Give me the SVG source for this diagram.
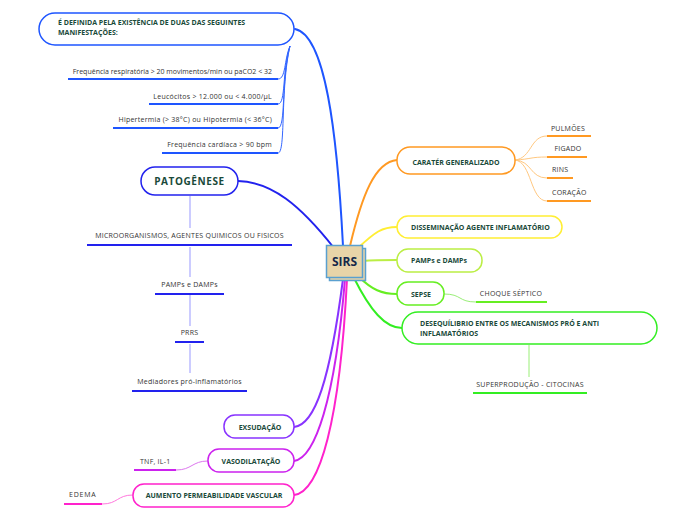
<svg xmlns="http://www.w3.org/2000/svg" width="696" height="520" viewBox="0 0 696 520">
<style>
.node{fill:#fff;stroke-width:1.5}
.nt{font-family:"Open Sans","Liberation Sans",sans-serif;font-size:7px;font-weight:bold;fill:#1a4a3a}
.ct{font-family:"Open Sans","Liberation Sans",sans-serif;font-size:7px;fill:#333;letter-spacing:0.25px}
.ul{stroke-width:2;fill:none}
.c{fill:none;stroke-width:2;stroke-linecap:round}
.cc{fill:none;stroke-width:1}
</style>
<rect width="696" height="520" fill="#fff"/>
<g id="connectors">
<path class="c" d="M343,246 C337,130 325,35 295,29" stroke="#1e55ff"/>
<path class="c" d="M334,248 C300,205 272,182 238,181" stroke="#2222ee"/>
<path class="c" d="M350,246 C362,195 375,162 397,160" stroke="#ff9922"/>
<path class="c" d="M358,248 C375,232 382,227 397,227" stroke="#ffee33"/>
<path class="c" d="M362,261 C375,260 385,260 397,260" stroke="#bbee44"/>
<path class="c" d="M358,276 C372,290 382,294 397,294" stroke="#66ee22"/>
<path class="c" d="M354,278 C370,310 385,328 402,328" stroke="#33ee22"/>
<path class="c" d="M343,279 C330,380 315,425 294,427" stroke="#8833ff"/>
<path class="c" d="M345,279 C335,400 315,458 294,461" stroke="#cc22ee"/>
<path class="c" d="M347,279 C340,420 320,492 294,495" stroke="#ff22cc"/>
<g stroke="#3366ff" class="cc">
<path d="M290,46 C284,60 286,79 278,79"/>
<path d="M290,46 C282,70 286,104 278,104"/>
<path d="M290,46 C281,80 286,128 278,128"/>
<path d="M290,46 C280,90 286,153 278,153"/>
</g>
<g stroke="#9999ff" class="cc">
<line x1="190" y1="196" x2="190" y2="228"/>
<line x1="190" y1="247" x2="190" y2="277"/>
<line x1="190" y1="295" x2="190" y2="326"/>
<line x1="190" y1="344" x2="190" y2="373"/>
</g>
<g stroke="#ffc880" class="cc">
<path d="M515,160 C532,158 530,136 547,136"/>
<path d="M515,160 C532,159 530,157 547,157"/>
<path d="M515,160 C532,161 530,178 547,178"/>
<path d="M515,160 C532,162 530,201 547,201"/>
</g>
<path class="cc" stroke="#99ee77" d="M444,294 C462,294 458,302 476,302"/>
<line class="cc" stroke="#99ee77" x1="529" y1="345" x2="529" y2="377"/>
<path class="cc" stroke="#dd77ee" d="M176,470 C192,470 192,461 208,461"/>
<path class="cc" stroke="#ff77dd" d="M102,504 C118,504 117,495 133,495"/>
</g>
<g id="n-sirs">
<rect x="329.5" y="248.5" width="36" height="32" fill="#e8d4a8" stroke="#5aa0d0" stroke-width="1.5"/>
<rect x="326.5" y="245.5" width="36" height="32" fill="#e8d4a8" stroke="#5aa0d0" stroke-width="1.5"/>
<text x="344.5" y="266" text-anchor="middle" font-family="'Open Sans','Liberation Sans',sans-serif" font-size="12" font-weight="bold" fill="#14284a">SIRS</text>
</g>
<g id="n-def">
<rect class="node" x="39" y="13" width="255" height="32" rx="16" stroke="#1e55ff"/>
<text class="nt" x="58" y="25">É DEFINIDA PELA EXISTÊNCIA DE DUAS DAS SEGUINTES</text>
<text class="nt" x="58" y="35">MANIFESTAÇÕES:</text>
</g>
<g id="n-fr">
<text class="ct" x="272" y="74" text-anchor="end" style="letter-spacing:0">Frequência respiratória &gt; 20 movimentos/min ou paCO2 &lt; 32</text>
<line class="ul" x1="68" y1="79" x2="278" y2="79" stroke="#1e55ff"/>
</g>
<g id="n-leu">
<text class="ct" x="272" y="99" text-anchor="end">Leucócitos &gt; 12.000 ou &lt; 4.000/µL</text>
<line class="ul" x1="149" y1="104" x2="278" y2="104" stroke="#1e55ff"/>
</g>
<g id="n-hip">
<text class="ct" x="272" y="122" text-anchor="end">Hipertermia (&gt; 38°C) ou Hipotermia (&lt; 36°C)</text>
<line class="ul" x1="113" y1="128" x2="278" y2="128" stroke="#1e55ff"/>
</g>
<g id="n-fc">
<text class="ct" x="272" y="147" text-anchor="end">Frequência cardíaca &gt; 90 bpm</text>
<line class="ul" x1="162" y1="153" x2="278" y2="153" stroke="#1e55ff"/>
</g>
<g id="n-pat">
<rect class="node" x="141" y="167" width="97" height="28" rx="14" stroke="#2222ee"/>
<text x="189.5" y="185" text-anchor="middle" font-family="'Open Sans','Liberation Sans',sans-serif" font-size="10" font-weight="bold" letter-spacing="0.6" fill="#1a4a3a">PATOGÊNESE</text>
</g>
<g id="n-micro">
<text class="ct" x="189.5" y="238" text-anchor="middle">MICROORGANISMOS, AGENTES QUIMICOS OU FISICOS</text>
<line class="ul" x1="87" y1="245" x2="292" y2="245" stroke="#2222ee"/>
</g>
<g id="n-pamps2">
<text class="ct" x="189.5" y="287" text-anchor="middle">PAMPs e DAMPs</text>
<line class="ul" x1="155" y1="294" x2="224" y2="294" stroke="#2222ee"/>
</g>
<g id="n-prrs">
<text class="ct" x="189.5" y="335" text-anchor="middle">PRRS</text>
<line class="ul" x1="175" y1="342" x2="204" y2="342" stroke="#2222ee"/>
</g>
<g id="n-med">
<text class="ct" x="189.5" y="384" text-anchor="middle">Mediadores pró-inflamatórios</text>
<line class="ul" x1="132" y1="391" x2="247" y2="391" stroke="#2222ee"/>
</g>
<g id="n-car">
<rect class="node" x="397" y="147" width="118" height="27" rx="13" stroke="#ff9922"/>
<text class="nt" x="456" y="164.5" text-anchor="middle">CARATÉR GENERALIZADO</text>
</g>
<g id="n-pul">
<text class="ct" x="568" y="130.5" text-anchor="middle">PULMÕES</text>
<line class="ul" x1="547" y1="136" x2="591" y2="136" stroke="#ff9922"/>
</g>
<g id="n-fig">
<text class="ct" x="568" y="150.5" text-anchor="middle">FIGADO</text>
<line class="ul" x1="547" y1="157" x2="587" y2="157" stroke="#ff9922"/>
</g>
<g id="n-rins">
<text class="ct" x="552" y="171.5">RINS</text>
<line class="ul" x1="547" y1="178" x2="573" y2="178" stroke="#ff9922"/>
</g>
<g id="n-cor">
<text class="ct" x="552" y="194.5">CORAÇÃO</text>
<line class="ul" x1="547" y1="201" x2="591" y2="201" stroke="#ff9922"/>
</g>
<g id="n-dis">
<rect class="node" x="397" y="216" width="165" height="22" rx="11" stroke="#ffee33"/>
<text class="nt" x="411" y="229.5">DISSEMINAÇÃO AGENTE INFLAMATÓRIO</text>
</g>
<g id="n-pamps">
<rect class="node" x="397" y="249" width="85" height="23" rx="11" stroke="#bbee44"/>
<text class="nt" x="411" y="262.5">PAMPs e DAMPs</text>
</g>
<g id="n-sepse">
<rect class="node" x="397" y="282" width="47" height="23" rx="11" stroke="#66ee22"/>
<text class="nt" x="411" y="296.5">SEPSE</text>
</g>
<g id="n-choque">
<text class="ct" x="511" y="295.5" text-anchor="middle">CHOQUE SÉPTICO</text>
<line class="ul" x1="476" y1="302" x2="547" y2="302" stroke="#66ee22"/>
</g>
<g id="n-des">
<rect class="node" x="402" y="312" width="255" height="32" rx="16" stroke="#33ee22"/>
<text class="nt" x="420" y="326">DESEQUÍLIBRIO ENTRE OS MECANISMOS PRÓ E ANTI</text>
<text class="nt" x="420" y="335.5">INFLAMATÓRIOS</text>
</g>
<g id="n-sup">
<text class="ct" x="530" y="386.5" text-anchor="middle">SUPERPRODUÇÃO - CITOCINAS</text>
<line class="ul" x1="473" y1="393" x2="587" y2="393" stroke="#33ee22"/>
</g>
<g id="n-exs">
<rect class="node" x="224" y="415" width="70" height="23" rx="11" stroke="#8833ff"/>
<text class="nt" x="260" y="429.5" text-anchor="middle">EXSUDAÇÃO</text>
</g>
<g id="n-vaso">
<rect class="node" x="208" y="449" width="86" height="23" rx="11" stroke="#cc22ee"/>
<text class="nt" x="251" y="463.5" text-anchor="middle">VASODILATAÇÃO</text>
</g>
<g id="n-tnf">
<text class="ct" x="140" y="463.5">TNF, IL-1</text>
<line class="ul" x1="134" y1="470" x2="176" y2="470" stroke="#cc22ee"/>
</g>
<g id="n-aum">
<rect class="node" x="133" y="484" width="161" height="23" rx="11" stroke="#ff22cc"/>
<text class="nt" x="214" y="498" text-anchor="middle">AUMENTO PERMEABILIDADE VASCULAR</text>
</g>
<g id="n-edema">
<text class="ct" x="69" y="497" style="letter-spacing:0.8px">EDEMA</text>
<line class="ul" x1="64" y1="504" x2="102" y2="504" stroke="#ff22cc"/>
</g>
</svg>
